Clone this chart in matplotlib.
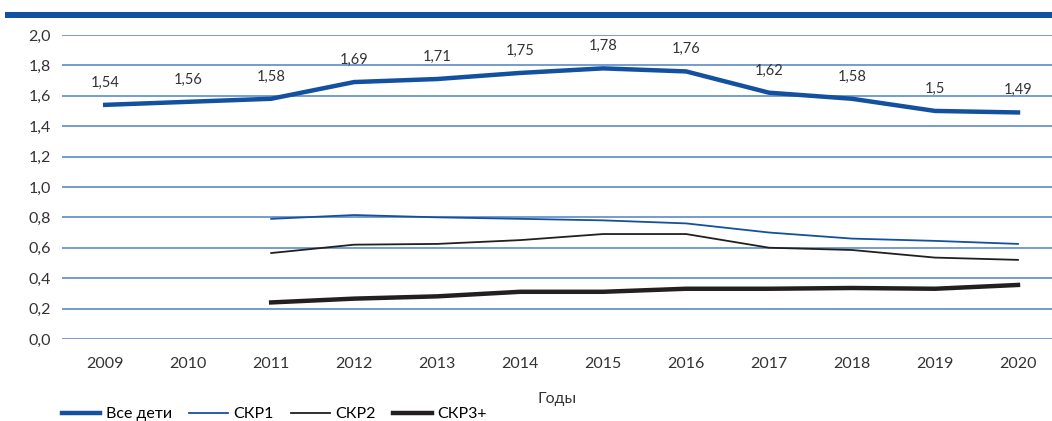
import matplotlib.pyplot as plt
from matplotlib.patches import Rectangle

years = list(range(2009, 2021))
all_children = [1.54, 1.56, 1.58, 1.69, 1.71, 1.75, 1.78, 1.76, 1.62, 1.58, 1.50, 1.49]
all_labels = ["1,54", "1,56", "1,58", "1,69", "1,71", "1,75", "1,78", "1,76", "1,62", "1,58", "1,5", "1,49"]

years_part = list(range(2011, 2021))
skr1 = [0.79, 0.815, 0.80, 0.79, 0.78, 0.76, 0.70, 0.66, 0.645, 0.625]
skr2 = [0.565, 0.62, 0.625, 0.65, 0.69, 0.69, 0.60, 0.585, 0.535, 0.52]
skr3 = [0.24, 0.265, 0.28, 0.31, 0.31, 0.33, 0.33, 0.335, 0.33, 0.355]

yticks = [0.0, 0.2, 0.4, 0.6, 0.8, 1.0, 1.2, 1.4, 1.6, 1.8, 2.0]

plt.rcParams['font.family'] = ['Lato', 'DejaVu Sans']

blue = '#1450a0'
dark = '#231f20'

fig = plt.figure(figsize=(10.52, 4.21), dpi=100)
ax = fig.add_axes([0.059, 0.195, 0.941, 0.722])

# top band
fig.add_artist(Rectangle((0.005, 0.958), 0.995, 0.014, transform=fig.transFigure,
                         color=blue, lw=0))

for y in yticks:
    ax.axhline(y, color='#4f80c2', lw=1.1, zorder=1)

ax.plot(years, all_children, color=blue, lw=3.2, label='Все дети', zorder=3)
ax.plot(years_part, skr1, color=blue, lw=1.3, label='СКР1', zorder=3)
ax.plot(years_part, skr2, color=dark, lw=1.3, label='СКР2', zorder=3)
ax.plot(years_part, skr3, color=dark, lw=3.2, label='СКР3+', zorder=3)

for x, v, t in zip(years, all_children, all_labels):
    ax.annotate(t, (x, v), xytext=(0, 11), textcoords='offset points',
                ha='center', va='bottom', fontsize=10.5, color='#333333')

ax.set_xlim(2008.48, 2020.41)
ax.set_ylim(0, 2.0)
ax.set_xticks(years)
ax.set_yticks(yticks)
ax.set_yticklabels([f"{v:.1f}".replace('.', ',') for v in yticks])
ax.tick_params(length=0, labelsize=11.5, colors='#333333')
ax.tick_params(axis='x', pad=13)
ax.tick_params(axis='y', pad=8)
for s in ax.spines.values():
    s.set_visible(False)

ax.set_xlabel('Годы', fontsize=11.5, color='#333333', labelpad=15)

fig.legend(loc='lower left', bbox_to_anchor=(0.045, -0.035), ncol=4, frameon=False,
           fontsize=11.5, handlelength=2.4, columnspacing=1.1, handletextpad=0.35)

fig.savefig('out.png', dpi=100)
